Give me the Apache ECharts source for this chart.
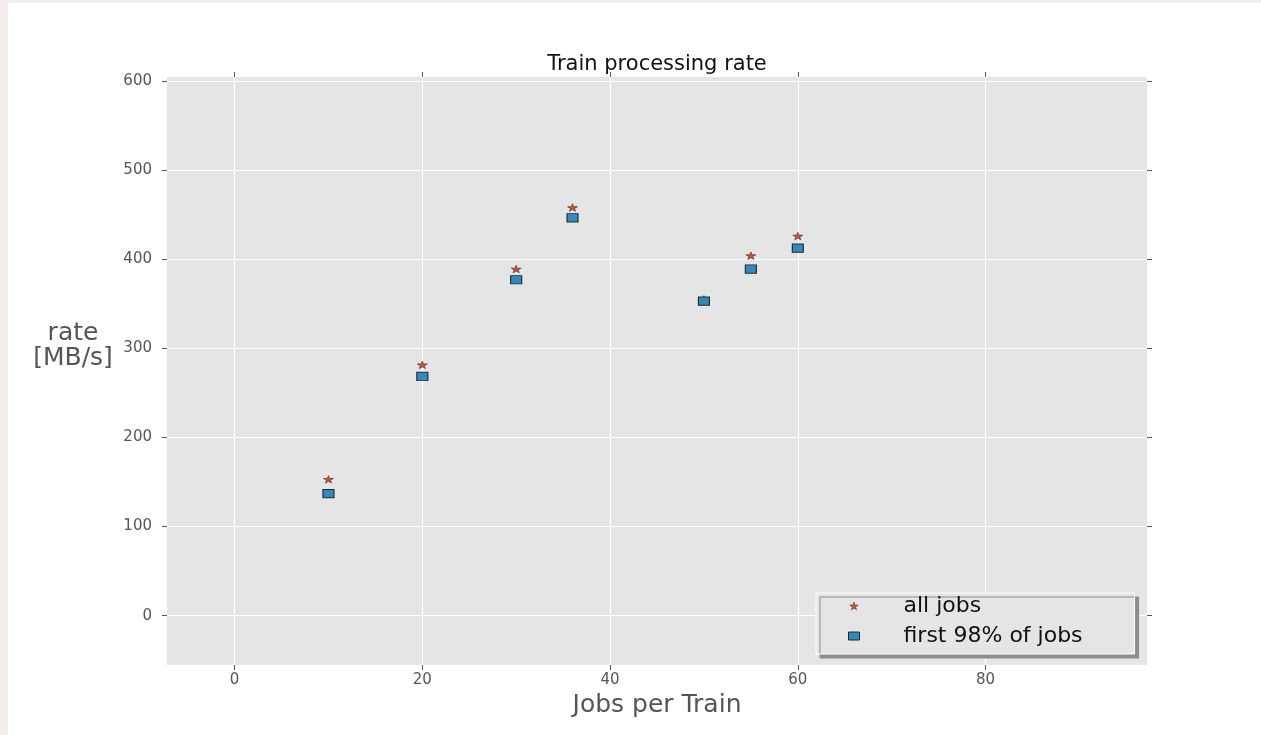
<!DOCTYPE html>
<html>
<head>
<meta charset="utf-8">
<title>Train processing rate</title>
<script src="https://cdn.jsdelivr.net/npm/echarts@6/dist/echarts.min.js"></script>
<style>
  html, body { margin: 0; padding: 0; background: #f3ecec; }
  #paper { position: absolute; left: 8px; top: 3px; right: 0; bottom: 0; background: #ffffff; }
  #chart { position: absolute; left: 0; top: 0; width: 1261px; height: 735px; }
</style>
</head>
<body>
<div id="paper"></div>
<div id="chart"></div>
<script>
// Jobs per train and measured processing rates [MB/s]
const jobsPerTrain = [10, 20, 30, 36, 50, 55, 60];
const rateAllJobs = [153, 281.5, 389, 458, 355, 404, 426];
const rateFirst98 = [137, 268.5, 377, 446.5, 353, 389, 412.5];

const seriesNames = ['all jobs', 'first 98% of jobs'];
const xTicks = [0, 20, 40, 60, 80];
const yTicks = [0, 100, 200, 300, 400, 500, 600];
const xRange = [-7.2, 97.2];
const yRange = [-55.3, 604.5];

const FONT = '"DejaVu Sans", "Liberation Sans", sans-serif';
const GREY = '#555555';
const RED = '#E24A33';
const BLUE = '#348ABD';

// five-pointed star marker (outer/inner radius ratio ~0.382)
const STAR = 'path://M100,0 L122.45,69.1 L195.11,69.1 L136.33,111.8 L158.78,180.9 L100,138.2 L41.22,180.9 L63.67,111.8 L4.89,69.1 L77.55,69.1 Z';

function pairs(xs, ys) {
  return xs.map((x, i) => [x, ys[i]]);
}

function valueAxis(range, ticks, position, withLabels) {
  return {
    type: 'value',
    position: position,
    min: range[0],
    max: range[1],
    axisLine: { show: false, onZero: false },
    axisTick: {
      show: true,
      inside: false,
      length: 5,
      customValues: ticks,
      lineStyle: { color: GREY, width: 1 }
    },
    axisLabel: {
      show: withLabels,
      customValues: ticks,
      color: GREY,
      fontFamily: FONT,
      fontSize: 15
    },
    splitLine: {
      show: withLabels,
      lineStyle: { color: '#ffffff', width: 1.2 }
    }
  };
}

const xBottom = valueAxis(xRange, xTicks, 'bottom', true);
xBottom.axisLabel.margin = 8;
xBottom.name = 'Jobs per Train';
xBottom.nameLocation = 'middle';
xBottom.nameGap = 25;
xBottom.nameTextStyle = { color: GREY, fontFamily: FONT, fontSize: 25 };

const xTop = valueAxis(xRange, xTicks, 'top', false);

const yLeft = valueAxis(yRange, yTicks, 'left', true);
yLeft.axisLabel.margin = 15;
yLeft.name = 'rate\n[MB/s]';
yLeft.nameLocation = 'middle';
yLeft.nameRotate = 0;
yLeft.nameGap = 94;
yLeft.nameTextStyle = {
  color: GREY, fontFamily: FONT, fontSize: 25, lineHeight: 25,
  align: 'center', verticalAlign: 'bottom'
};

const yRight = valueAxis(yRange, yTicks, 'right', false);

const chart = echarts.init(document.getElementById('chart'), null, { renderer: 'canvas' });

chart.setOption({
  backgroundColor: 'transparent',
  animation: false,
  textStyle: { fontFamily: FONT },
  grid: {
    left: 167, right: 114, top: 77, bottom: 70,
    show: true,
    backgroundColor: '#E5E5E5',
    borderWidth: 0,
    containLabel: false,
    outerBoundsMode: 'none'
  },
  xAxis: [xBottom, xTop],
  yAxis: [yLeft, yRight],
  graphic: [{
    type: 'text',
    x: 657,
    y: 65,
    silent: true,
    style: {
      text: 'Train processing rate',
      fill: '#111111',
      font: '21px ' + FONT,
      align: 'center',
      verticalAlign: 'middle'
    }
  }],
  legend: {
    orient: 'vertical',
    left: 816,
    top: 593,
    padding: [2, 52, 7, 32],
    itemGap: 8,
    itemWidth: 11,
    itemHeight: 8,
    selectedMode: false,
    backgroundColor: '#E5E5E5',
    borderColor: '#ffffff',
    borderWidth: 1,
    shadowColor: '#8c8c8c',
    shadowBlur: 0,
    shadowOffsetX: 4,
    shadowOffsetY: 4,
    textStyle: {
      color: '#111111',
      fontFamily: FONT,
      fontSize: 22,
      padding: [0, 0, 0, 39]
    },
    data: [
      { name: seriesNames[0], icon: STAR,
        itemStyle: { color: RED, borderColor: '#3a2a28', borderWidth: 0.5 } },
      { name: seriesNames[1], icon: 'rect',
        itemStyle: { color: BLUE, borderColor: '#1f2a33', borderWidth: 1 } }
    ]
  },
  series: [
    {
      name: seriesNames[0],
      type: 'scatter',
      xAxisIndex: 0,
      yAxisIndex: 0,
      symbol: STAR,
      symbolSize: [10, 7.5],
      itemStyle: { color: RED, borderColor: '#3a2a28', borderWidth: 0.6, opacity: 1 },
      data: pairs(jobsPerTrain, rateAllJobs)
    },
    {
      name: seriesNames[1],
      type: 'scatter',
      xAxisIndex: 0,
      yAxisIndex: 0,
      symbol: 'rect',
      symbolSize: [11, 8.3],
      itemStyle: { color: BLUE, borderColor: '#1f2a33', borderWidth: 1, opacity: 1 },
      data: pairs(jobsPerTrain, rateFirst98)
    }
  ]
});
</script>
</body>
</html>
